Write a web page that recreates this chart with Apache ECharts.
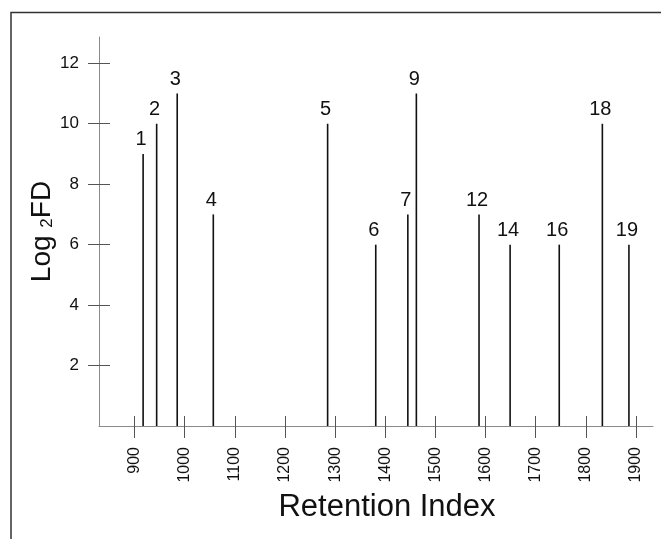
<!DOCTYPE html>
<html>
<head>
<meta charset="utf-8">
<script src="https://cdn.jsdelivr.net/npm/echarts@6/dist/echarts.min.js"></script>
<style>
html,body{margin:0;padding:0;background:#fff;}
#chart{width:661px;height:539px;}
</style>
</head>
<body>
<div id="chart"></div>
<script>
// Data
const retentionIndex = [917, 944, 985, 1057, 1285, 1381, 1445, 1462, 1587, 1649, 1747, 1833, 1886];
const log2FD = [9, 10, 11, 7, 10, 6, 7, 11, 7, 6, 6, 10, 6];
const peakLabels = ['1', '2', '3', '4', '5', '6', '7', '9', '12', '14', '16', '18', '19'];
const xTicks = [900, 1000, 1100, 1200, 1300, 1400, 1500, 1600, 1700, 1800, 1900];
const yTicks = [2, 4, 6, 8, 10, 12];

const FONT = 'Liberation Sans, Arial, sans-serif';
const chart = echarts.init(document.getElementById('chart'), null, {renderer: 'canvas'});

const barData = retentionIndex.map((x, i) => ({value: [x, log2FD[i]], name: peakLabels[i]}));

const xMin = 829, xMax = 1934, yMin = 0, yMax = 12.87;

chart.setOption({
  animation: false,
  backgroundColor: '#ffffff',
  grid: {left: 99, right: 8, top: 37, bottom: 113, containLabel: false},
  xAxis: [{
    type: 'value', min: xMin, max: xMax, position: 'bottom',
    splitLine: {show: false},
    axisLine: {show: true, lineStyle: {color: '#8a8a8a', width: 1}},
    axisTick: {show: true, length: 12, customValues: xTicks, lineStyle: {color: '#555', width: 1}},
    axisLabel: {show: true, customValues: xTicks, rotate: 90, margin: 21, fontSize: 16, color: '#111', fontFamily: FONT,
      formatter: v => String(v)},
    name: 'Retention Index', nameLocation: 'middle', nameGap: 66, nameMoveOverlap: false,
    nameTextStyle: {fontSize: 31, color: '#111', fontFamily: FONT, padding: [0, 0, 0, 22]}
  }, {
    type: 'value', min: xMin, max: xMax, position: 'bottom', offset: 0,
    splitLine: {show: false},
    axisLine: {show: false},
    axisTick: {show: true, inside: true, length: 10, customValues: xTicks, lineStyle: {color: '#555', width: 1}},
    axisLabel: {show: false}
  }],
  yAxis: [{
    type: 'value', min: yMin, max: yMax, position: 'left',
    splitLine: {show: false},
    axisLine: {show: true, lineStyle: {color: '#8a8a8a', width: 1}},
    axisTick: {show: true, length: 11, customValues: yTicks, lineStyle: {color: '#555', width: 1}},
    axisLabel: {show: true, customValues: yTicks, margin: 20, fontSize: 17, color: '#111', fontFamily: FONT,
      formatter: v => String(v)},
    name: '{a|Log }{s|2}{a|FD}', nameLocation: 'middle', nameGap: 43, nameMoveOverlap: false,
    nameTextStyle: {
      color: '#111', fontFamily: FONT,
      rich: {
        a: {fontSize: 28, lineHeight: 28, verticalAlign: 'top', fontFamily: FONT, color: '#111'},
        s: {fontSize: 17, lineHeight: 17, verticalAlign: 'bottom', padding: [18, 0, 0, 0], fontFamily: FONT, color: '#111'}
      }
    }
  }, {
    type: 'value', min: yMin, max: yMax, position: 'left', offset: 0,
    splitLine: {show: false},
    axisLine: {show: false},
    axisTick: {show: true, inside: true, length: 11, customValues: yTicks, lineStyle: {color: '#555', width: 1}},
    axisLabel: {show: false}
  }],
  graphic: [{
    type: 'polyline',
    shape: {points: [[11, 539], [11, 12.5], [661, 12.5]]},
    style: {stroke: '#333', lineWidth: 1.5, fill: null},
    silent: true
  }],
  series: [{
    type: 'bar',
    xAxisIndex: 0, yAxisIndex: 0,
    data: barData,
    barWidth: 1.6,
    itemStyle: {color: '#111'},
    label: {
      show: true, position: 'top', distance: 4, offset: [-2, 0],
      formatter: p => p.name,
      fontSize: 20, color: '#111', fontFamily: FONT
    }
  }]
});
</script>
</body>
</html>
